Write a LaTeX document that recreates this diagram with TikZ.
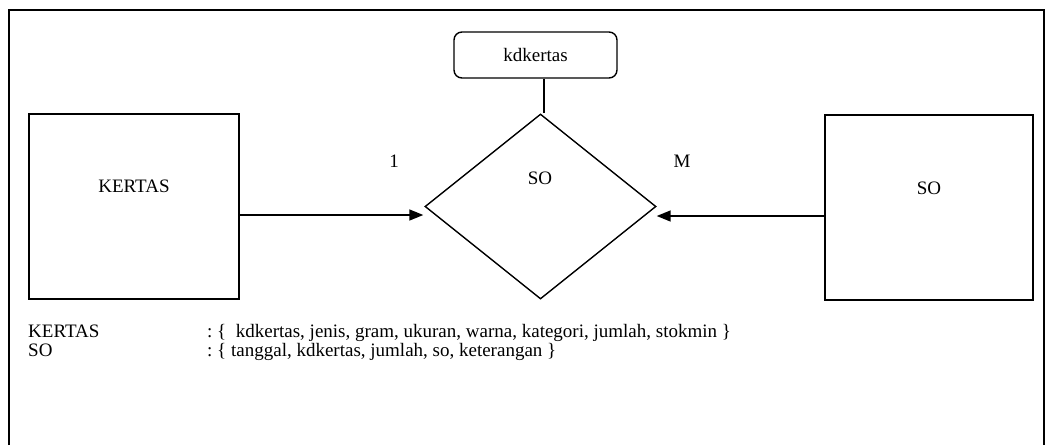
\documentclass[tikz,border=0pt]{standalone}
\usepackage{fontspec}
\setmainfont{Liberation Serif}
\usetikzlibrary{shapes.geometric,arrows.meta}
\begin{document}
\begin{tikzpicture}[x=1pt,y=-1pt,
  entbox/.style={draw,line width=1.8pt,inner sep=0pt,minimum width=210pt,minimum height=185pt},
  relshape/.style={draw,shape=diamond,line width=1.4pt,inner sep=0pt,minimum width=231pt,minimum height=185pt},
  attrbox/.style={draw,line width=1.4pt,rounded corners=8pt,inner sep=0pt,minimum width=163pt,minimum height=46pt},
  txt/.style={inner sep=0pt,font=\fontsize{19}{22}\selectfont},
  conn/.style={line width=1.5pt,-{Triangle[length=14pt,width=11pt]}},
  plain/.style={line width=1.4pt}]
\useasboundingbox (0,0) rectangle (1046,445);
\draw[line width=1.8pt] (9,445) -- (9,10) -- (1044,10) -- (1044,445);
\node[entbox] (kertas) at (134,206.5) {};
\node[entbox,minimum width=208pt] (so) at (929,207.5) {};
\node[relshape] (rel) at (540.5,206.5) {};
\node[attrbox,txt] (attr) at (535.5,55) {kdkertas};
\node[txt] (kertaslbl) at (134,186) {KERTAS};
\node[txt] (solbl) at (929,188) {SO};
\node[txt] (rellbl) at (540,178) {SO};
\node[txt] (one) at (394,161) {1};
\node[txt] (many) at (682,161) {M};
\draw[plain] ([xshift=8.5pt]attr.south) -- ([xshift=3.5pt]rel.north);
\draw[conn] ([yshift=-8.5pt]kertas.east) -- ([yshift=-8.5pt,xshift=-1pt]rel.west);
\draw[conn] ([yshift=-8.5pt]so.west) -- ([yshift=-9.5pt]rel.east);
\node[txt,anchor=base west] (k1) at (28,337) {KERTAS};
\node[txt,anchor=base west] (k2) at (207,337) {:\ \{\ \ kdkertas, jenis, gram, ukuran, warna, kategori, jumlah, stokmin \}};
\node[txt,anchor=base west] (s1) at (28,356) {SO};
\node[txt,anchor=base west] (s2) at (207,356) {:\ \{ tanggal, kdkertas, jumlah, so, keterangan \}};
\end{tikzpicture}
\end{document}
